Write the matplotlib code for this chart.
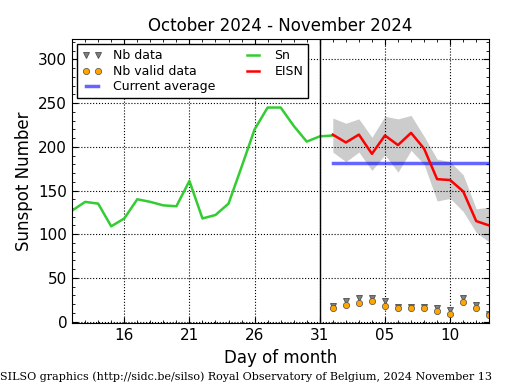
import matplotlib
matplotlib.use("Agg")
import matplotlib.pyplot as plt
from matplotlib.ticker import MultipleLocator

# days counted from Oct 1 (Nov 1 = 32)
sn_days = list(range(12, 33))
sn = [127, 137, 135, 109, 118, 140, 137, 133, 132, 161, 118, 122, 135,
      177, 220, 245, 245, 224, 206, 212, 213]

eisn_days = list(range(32, 45))
eisn = [214, 205, 214, 192, 213, 202, 216, 198, 163, 162, 149, 115, 110]
eisn_hi = [233, 227, 232, 211, 235, 232, 236, 212, 186, 183, 168, 129, 131]
eisn_lo = [194, 183, 194, 173, 191, 171, 196, 180, 138, 141, 126, 102, 91]
nb_data = [18, 24, 27, 27, 23, 17, 17, 17, 15, 13, 27, 19, 9]
nb_valid = [15, 19, 21, 23, 18, 15, 15, 15, 12, 9, 22, 16, 8]
current_avg = 181

tick_pos = [16, 21, 26, 31, 36, 41]
tick_lab = ["16", "21", "26", "31", "05", "10"]

plt.rcParams['xtick.direction'] = 'in'
plt.rcParams['ytick.direction'] = 'in'
plt.rcParams['xtick.top'] = True
plt.rcParams['ytick.right'] = True
plt.rcParams['xtick.major.size'] = 4
plt.rcParams['ytick.major.size'] = 4
plt.rcParams['xtick.minor.size'] = 2
plt.rcParams['ytick.minor.size'] = 2

fig = plt.figure(figsize=(5.15, 3.9), dpi=100)
ax = fig.add_axes([0.140, 0.171, 0.810, 0.728])

ax.fill_between(eisn_days, eisn_lo, eisn_hi, color='0.8', lw=0)
ax.plot(eisn_days, nb_data, 'v', color='0.5', mec='0.3', ms=4, mew=0.6, label='Nb data')
ax.plot(eisn_days, nb_valid, 'o', color='orange', mec='0.3', ms=4.5, mew=0.5, label='Nb valid data')
ax.plot([eisn_days[0], eisn_days[-1]], [current_avg, current_avg], color='blue',
        alpha=0.6, lw=2.5, label='Current average')
ax.plot(sn_days, sn, color='#33cc33', lw=1.8, label='Sn')
ax.plot(eisn_days, eisn, color='red', lw=1.8, label='EISN')
ax.axvline(31, color='black', lw=1)

ax.set_xlim(12, 44)
ax.set_ylim(-2, 323)
ax.set_xticks(tick_pos)
ax.set_xticklabels(tick_lab)
ax.xaxis.set_minor_locator(MultipleLocator(1))
ax.yaxis.set_minor_locator(MultipleLocator(10))
ax.set_yticks([0, 50, 100, 150, 200, 250, 300])
ax.tick_params(labelsize=11)
ax.grid(True, linestyle=':', color='black', lw=0.8)

ax.set_title("October 2024 - November 2024", fontsize=12)
ax.set_xlabel("Day of month", fontsize=12)
ax.set_ylabel("Sunspot Number", fontsize=12)

leg = ax.legend(loc='upper left', ncol=2, numpoints=2, fontsize=9,
                fancybox=False, framealpha=1, borderaxespad=0.4,
                handlelength=1.6, handletextpad=0.9, columnspacing=2.2,
                labelspacing=0.2, borderpad=0.4)
leg.get_frame().set_edgecolor('black')

fig.text(0.0, 0.02, "SILSO graphics (http://sidc.be/silso) Royal Observatory of Belgium, 2024 November 13",
         family='DejaVu Serif', fontsize=8, ha='left', va='bottom')

fig.savefig("out.png", dpi=100)
